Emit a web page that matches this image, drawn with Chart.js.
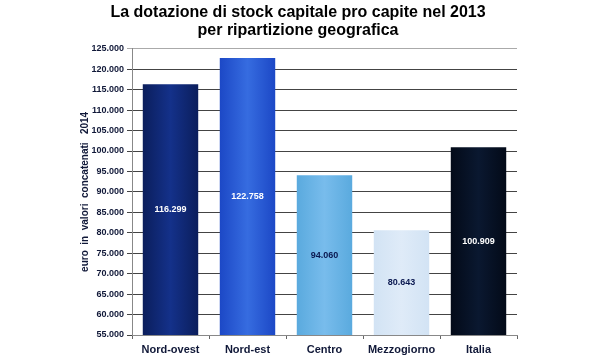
<!DOCTYPE html>
<html>
<head>
<meta charset="utf-8">
<script src="https://cdn.jsdelivr.net/npm/chart.js@4"></script>
<style>
  html, body { margin: 0; padding: 0; background: #fff; }
  #wrap { width: 600px; height: 360px; }
</style>
</head>
<body>
<div id="wrap"><canvas id="chart" width="600" height="360"></canvas></div>
<script>
// Data
const regions = ['Nord-ovest', 'Nord-est', 'Centro', 'Mezzogiorno', 'Italia'];
const stockValues = [116299, 122758, 94060, 80643, 100909];
const yTicks = [55000, 125000, 5000]; // min, max, step

// Bar colours: edge / centre of each bar, and label colour
const edgeColors = ['#0b1e5c', '#1c48c6', '#5aaade', '#d2e3f4', '#030a18'];
const midColors = ['#14318a', '#366ce0', '#78bcec', '#dfebf8', '#0a1830'];
const labelColors = ['#ffffff', '#ffffff', '#0a1850', '#0a1850', '#ffffff'];

function fmtIt(v) {
    return String(Math.round(v)).replace(/\B(?=(\d{3})+(?!\d))/g, '.');
}

// Horizontal gradient for each bar, built from the x scale
function barGradient(context) {
    const chart = context.chart;
    const i = context.dataIndex;
    const xs = chart.scales.x;
    if (i === undefined || !xs || !xs.width) return edgeColors[0];
    const xc = xs.getPixelForValue(i);
    const w = xs.width / regions.length * 0.72;
    const g = chart.ctx.createLinearGradient(xc - w / 2, 0, xc + w / 2, 0);
    g.addColorStop(0, edgeColors[i]);
    g.addColorStop(0.5, midColors[i]);
    g.addColorStop(1, edgeColors[i]);
    return g;
}

// Value labels in the middle of the visible part of each bar
const valueLabels = {
    id: 'valueLabels',
    afterDatasetsDraw(chart) {
        const ctx = chart.ctx;
        const meta = chart.getDatasetMeta(0);
        const bottom = chart.chartArea.bottom;
        ctx.save();
        ctx.font = 'bold 9px "Liberation Sans", Arial, sans-serif';
        ctx.textAlign = 'center';
        ctx.textBaseline = 'middle';
        meta.data.forEach((bar, i) => {
            const base = Math.min(bar.base, bottom);
            ctx.fillStyle = labelColors[i];
            ctx.fillText(fmtIt(stockValues[i]), bar.x, (bar.y + base) / 2);
        });
        ctx.restore();
    }
};

const ctx = document.getElementById('chart').getContext('2d');
new Chart(ctx, {
    type: 'bar',
    data: {
        labels: regions,
        datasets: [{
            data: stockValues,
            backgroundColor: barGradient,
            borderWidth: 0,
            categoryPercentage: 1,
            barPercentage: 0.72
        }]
    },
    options: {
        responsive: false,
        animation: false,
        layout: { padding: { left: 79, right: 83, top: 0, bottom: 0 } },
        plugins: {
            legend: { display: false },
            tooltip: { enabled: false },
            title: {
                display: true,
                text: ['La dotazione di stock capitale pro capite nel 2013', 'per ripartizione geografica'],
                color: '#000',
                font: { family: '"Liberation Sans", Arial, sans-serif', size: 16, weight: 'bold', lineHeight: 1.15 },
                padding: { top: 3, bottom: 9 }
            }
        },
        scales: {
            x: {
                grid: { drawOnChartArea: false, drawTicks: true, tickLength: 4, color: '#666', offset: true },
                border: { color: '#888' },
                ticks: {
                    color: '#101838',
                    font: { family: '"Liberation Sans", Arial, sans-serif', size: 11, weight: 'bold' },
                    padding: 4
                },
                afterFit(scale) { scale.height = 25; }
            },
            y: {
                min: yTicks[0],
                max: yTicks[1],
                grid: {
                    color: (c) => c.tick && c.tick.value === yTicks[1] ? '#aaa' : '#444',
                    tickLength: 5
                },
                border: { color: '#888' },
                ticks: {
                    stepSize: yTicks[2],
                    color: '#101838',
                    font: { family: '"Liberation Sans", Arial, sans-serif', size: 9, weight: 'bold' },
                    padding: 3,
                    callback: (v) => fmtIt(v)
                },
                title: {
                    display: true,
                    text: 'euro  in  valori  concatenati   2014',
                    color: '#101838',
                    font: { family: '"Liberation Sans", Arial, sans-serif', size: 10, weight: 'bold' },
                    padding: 0
                },
                afterFit(scale) { scale.width = 53; }
            }
        }
    },
    plugins: [valueLabels]
});
</script>
</body>
</html>
